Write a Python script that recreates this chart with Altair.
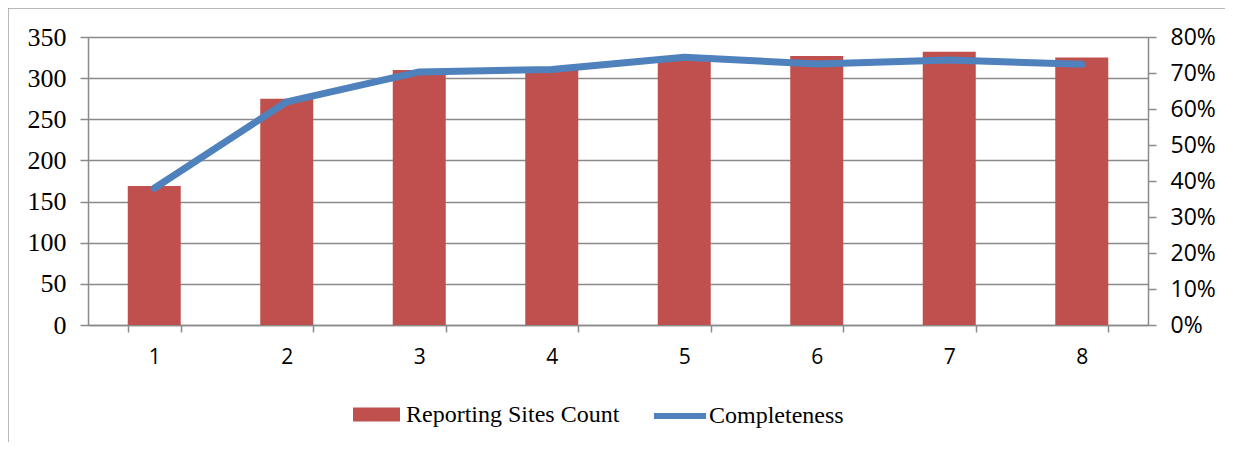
import altair as alt
import pandas as pd

periods = ["1", "2", "3", "4", "5", "6", "7", "8"]
sites_count = [169, 275, 310, 311, 322, 327, 332, 325]
completeness = [0.38, 0.62, 0.703, 0.71, 0.744, 0.725, 0.736, 0.724]
bar_series = "Reporting Sites Count"
line_series = "Completeness"
left_ticks = [0, 50, 100, 150, 200, 250, 300, 350]
right_ticks = [0, 0.1, 0.2, 0.3, 0.4, 0.5, 0.6, 0.7, 0.8]

df = pd.DataFrame({
    "period": periods,
    "count": sites_count,
    "completeness": completeness,
    "bar_series": [bar_series] * len(periods),
    "line_series": [line_series] * len(periods),
})

GRAY = "#8a8a8a"
RED = "#C0504D"
BLUE = "#4F81BD"

x_enc = alt.X(
    "period:O",
    sort=periods,
    scale=alt.Scale(paddingInner=0.6, paddingOuter=0.3),
    axis=alt.Axis(
        title=None, labelAngle=0, tickBand="extent", domainColor=GRAY,
        tickColor=GRAY, tickSize=7, tickWidth=1.5, domainWidth=1.5,
        labelFont="Open Sans", labelFontSize=21, labelColor="black",
        labelPadding=14, grid=False,
    ),
)

bars = alt.Chart(df).mark_bar(size=53).encode(
    x=x_enc,
    y=alt.Y(
        "count:Q",
        scale=alt.Scale(domain=[0, 350], nice=False),
        axis=alt.Axis(
            orient="left", title=None, values=left_ticks, grid=True,
            gridColor=GRAY, gridWidth=1.5, domainColor=GRAY, domainWidth=1.5,
            tickColor=GRAY, tickSize=8, tickWidth=1.5,
            labelFont="Liberation Serif", labelFontSize=26, labelColor="black",
            labelPadding=14,
        ),
    ),
    color=alt.Color(
        "bar_series:N",
        scale=alt.Scale(domain=[bar_series], range=[RED]),
        legend=alt.Legend(
            title=None, orient="none", legendX=265, legendY=354, padding=0,
            symbolType="M-1,-0.3H1V0.3H-1Z", symbolSize=2209,
            symbolStrokeWidth=0, symbolOpacity=1,
            labelFont="Liberation Serif", labelFontSize=24, labelColor="black",
            labelOffset=6, labelLimit=400,
        ),
    ),
)

line = alt.Chart(df).mark_line(strokeWidth=7, strokeCap="round", strokeJoin="round").encode(
    x=x_enc,
    y=alt.Y(
        "completeness:Q",
        scale=alt.Scale(domain=[0, 0.8], nice=False),
        axis=alt.Axis(
            orient="right", title=None, values=right_ticks, format=".0%",
            grid=False, domainColor=GRAY, domainWidth=1.5,
            tickColor=GRAY, tickSize=8, tickWidth=1.5,
            labelFont="Open Sans", labelFontSize=23, labelColor="black",
            labelPadding=14,
        ),
    ),
    stroke=alt.Stroke(
        "line_series:N",
        scale=alt.Scale(domain=[line_series], range=[BLUE]),
        legend=alt.Legend(
            title=None, orient="none", legendX=563, legendY=350, padding=0,
            symbolType="stroke", symbolSize=2704, symbolStrokeWidth=6,
            labelFont="Liberation Serif", labelFontSize=24, labelColor="black",
            labelOffset=0, labelLimit=400,
        ),
    ),
)

border_left = alt.Chart(alt.Data(values=[{"a": 1}])).mark_rule(
    color="#a0a0a0", strokeWidth=1.5
).encode(x=alt.value(-80), y=alt.value(-29), y2=alt.value(410))

border_top = alt.Chart(alt.Data(values=[{"a": 1}])).mark_rule(
    color="#a0a0a0", strokeWidth=1.5
).encode(x=alt.value(-80), x2=alt.value(1140), y=alt.value(-29))

chart = alt.layer(bars, line, border_left, border_top).resolve_scale(
    y="independent"
).properties(
    width=1060,
    height=288,
    padding={"left": 80, "top": 29, "right": 77, "bottom": 117},
    autosize=alt.AutoSizeParams(type="none"),
).configure_view(stroke=None).configure(background="white")

chart.save("out.html", embed_options={"renderer": "svg", "actions": False})
